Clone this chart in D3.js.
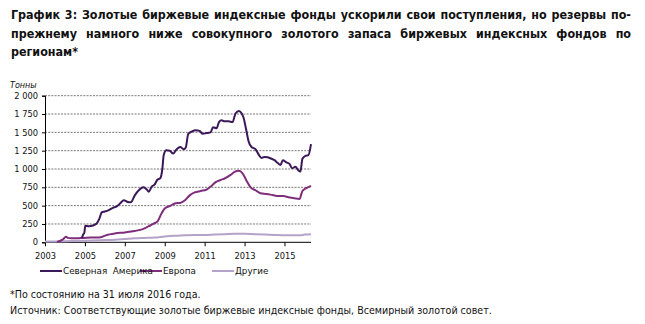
<!DOCTYPE html>
<html><head><meta charset="utf-8">
<script src="https://cdn.jsdelivr.net/npm/d3@7"></script>
<style>
body{margin:0;background:#fff;}
svg{display:block;}
</style></head>
<body>
<svg id="c" width="645" height="324"></svg>
<script>
// ---- data ----
const titleLines = [
  "График 3: Золотые биржевые индексные фонды ускорили свои поступления, но резервы по-",
  "прежнему намного ниже совокупного золотого запаса биржевых индексных фондов по",
  "регионам*"
];
const footnotes = [
  "*По состоянию на 31 июля 2016 года.",
  "Источник: Соответствующие золотые биржевые индексные фонды, Всемирный золотой совет."
];
const yUnit = "Тонны";
const yTicks = [0, 250, 500, 750, 1000, 1250, 1500, 1750, 2000];
const yTickLabels = ["0", "250", "500", "750", "1 000", "1 250", "1 500", "1 750", "2 000"];
const xTicks = [2003, 2005, 2007, 2009, 2011, 2013, 2015];
const seriesNames = ["Северная  Америка", "Европа", "Другие"];

const naDates = [2004.85,2004.92,2004.97,2005.02,2005.2,2005.4,2005.6,2005.72,2005.85,2006.0,2006.2,2006.4,2006.6,2006.8,2006.95,2007.15,2007.3,2007.5,2007.7,2007.93,2008.1,2008.2,2008.35,2008.5,2008.62,2008.78,2008.88,2008.95,2009.08,2009.25,2009.42,2009.6,2009.78,2009.95,2010.05,2010.18,2010.35,2010.55,2010.75,2010.9,2011.1,2011.3,2011.42,2011.6,2011.72,2011.85,2012.0,2012.2,2012.4,2012.55,2012.72,2012.85,2012.95,2013.08,2013.2,2013.35,2013.55,2013.7,2013.85,2014.0,2014.15,2014.35,2014.5,2014.65,2014.8,2014.92,2015.1,2015.25,2015.38,2015.55,2015.7,2015.8,2015.9,2016.05,2016.2,2016.33];
const naValues = [60,110,130,225,220,230,260,320,410,420,440,470,490,540,575,550,545,640,710,750,720,690,760,790,850,875,1000,1190,1255,1250,1210,1270,1300,1270,1290,1480,1510,1530,1520,1480,1490,1500,1570,1555,1640,1665,1650,1650,1640,1760,1790,1760,1700,1540,1380,1300,1270,1200,1150,1165,1160,1140,1120,1085,1055,1120,1090,1070,1010,1030,980,965,1140,1180,1190,1340];

const euDates = [2003.6,2003.9,2004.05,2004.15,2004.3,2004.6,2004.9,2005.3,2005.8,2006.1,2006.5,2007.0,2007.5,2007.9,2008.2,2008.45,2008.65,2008.85,2009.0,2009.3,2009.5,2009.8,2010.0,2010.25,2010.5,2010.8,2011.1,2011.3,2011.55,2011.8,2012.0,2012.3,2012.5,2012.72,2012.9,2013.1,2013.3,2013.55,2013.8,2014.1,2014.4,2014.7,2014.95,2015.2,2015.5,2015.75,2015.9,2016.1,2016.33];
const euValues = [5,40,75,60,55,55,60,65,70,100,120,135,155,180,220,255,290,400,460,500,530,540,570,640,680,700,720,760,820,850,870,920,960,975,940,840,750,710,670,660,645,630,630,615,600,590,700,740,770];

const otDates = [2003.0,2004.0,2005.0,2006.0,2006.5,2007.0,2007.5,2008.0,2008.5,2009.0,2009.5,2010.0,2010.5,2011.0,2011.5,2012.0,2012.5,2013.0,2013.5,2014.0,2014.5,2015.0,2015.5,2015.8,2016.0,2016.33];
const otValues = [10,15,20,30,35,45,55,60,65,80,90,95,100,100,105,110,115,115,110,105,100,95,95,95,105,110];

const colors = ["#3b1858", "#7e2e7b", "#b4a2c8"];

// ---- drawing ----
const svg = d3.select("#c");
const x = d3.scaleLinear().domain([2003, 2016.33]).range([45, 311]);
const y = d3.scaleLinear().domain([0, 2000]).range([242.3, 95.7]);

// title (justified)
const titleFont = "'DejaVu Sans Condensed', 'DejaVu Sans', sans-serif";
const tLeft = 11, tRight = 631;
const baselines = [19, 37.5, 56];
titleLines.forEach((line, i) => {
  const t = svg.append("text")
    .attr("x", tLeft).attr("y", baselines[i])
    .style("font-family", titleFont).style("font-stretch", "condensed")
    .style("font-weight", "bold").style("font-size", "12.4px").attr("fill", "#111")
    .text(line);
  if (i < titleLines.length - 1) {
    const w = t.node().getComputedTextLength();
    const gaps = line.split(" ").length - 1;
    t.style("word-spacing", Math.max(0, (tRight - tLeft - w) / gaps) + "px");
  }
});

// gridlines
svg.append("g").selectAll("line").data(yTicks.filter(d => d > 0)).join("line")
  .attr("x1", 45).attr("x2", 311)
  .attr("y1", d => y(d)).attr("y2", d => y(d))
  .attr("stroke", "#555").attr("stroke-width", 0.8).attr("stroke-dasharray", "2,1.2");

// axes
const yAxis = d3.axisLeft(y).tickValues(yTicks).tickSize(3).tickPadding(4)
  .tickFormat((d, i) => yTickLabels[i]);
const gy = svg.append("g").attr("transform", "translate(45,0)").call(yAxis);
gy.select(".domain").attr("stroke", "#000");
gy.selectAll(".tick line").attr("stroke", "#000");
gy.selectAll("text").style("font-family", "'DejaVu Sans', Verdana, sans-serif").style("font-size", "8.3px").attr("fill", "#111");

const xAxis = d3.axisBottom(x).tickValues(xTicks).tickSize(4).tickPadding(7).tickFormat(d3.format("d"));
const gx = svg.append("g").attr("transform", "translate(0,242.3)").call(xAxis);
gx.select(".domain").attr("stroke", "#000").attr("d", "M45,0H311");
gx.selectAll(".tick line").attr("stroke", "#000");
gx.selectAll("text").style("font-family", "'DejaVu Sans', Verdana, sans-serif").style("font-size", "8.3px").attr("fill", "#111");

svg.append("text").attr("x", 10).attr("y", 88).text(yUnit)
  .style("font-family", "'DejaVu Sans', Verdana, sans-serif").style("font-size", "8px")
  .style("font-style", "italic").attr("fill", "#111");

// lines
const line = d3.line().x(d => x(d[0])).y(d => y(d[1])).curve(d3.curveMonotoneX);
const series = [
  d3.zip(otDates, otValues),
  d3.zip(euDates, euValues),
  d3.zip(naDates, naValues)
];
const seriesColors = [colors[2], colors[1], colors[0]];
series.forEach((s, i) => {
  svg.append("path").datum(s).attr("d", line).attr("fill", "none")
    .attr("stroke", seriesColors[i]).attr("stroke-width", 2).attr("stroke-linejoin", "round");
});

// legend
const legX = [40, 140, 212];
seriesNames.forEach((n, i) => {
  svg.append("line").attr("x1", legX[i]).attr("x2", legX[i] + 22).attr("y1", 271).attr("y2", 271)
    .attr("stroke", colors[i]).attr("stroke-width", 2);
});
seriesNames.forEach((n, i) => {
  svg.append("text").attr("x", legX[i] + 23).attr("y", 274).text(n)
    .style("white-space", "pre")
    .style("font-family", "'DejaVu Sans', Verdana, sans-serif").style("font-size", "8.8px").attr("fill", "#111");
});

// footnotes
const fy = [298, 314];
footnotes.forEach((f, i) => {
  svg.append("text").attr("x", 10).attr("y", fy[i]).text(f)
    .style("font-family", titleFont).style("font-stretch", "condensed")
    .style("font-size", "10.6px").attr("fill", "#111");
});
</script>
</body></html>
